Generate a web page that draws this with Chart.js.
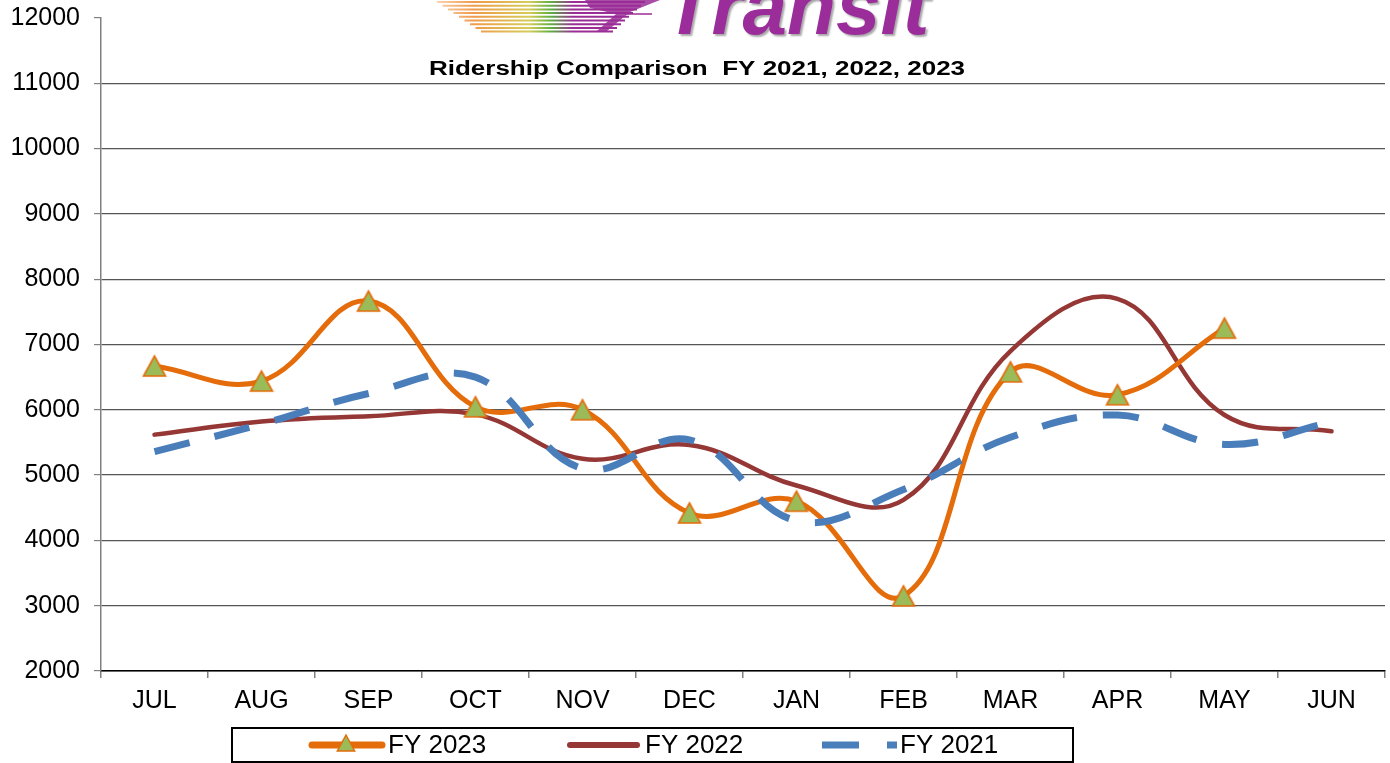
<!DOCTYPE html>
<html>
<head>
<meta charset="utf-8">
<script src="https://cdn.jsdelivr.net/npm/chart.js@4.4.1/dist/chart.umd.min.js"></script>
<style>
  html, body { margin: 0; padding: 0; background: #fff; }
  #wrap { position: relative; width: 1390px; height: 763px; }
</style>
</head>
<body>
<div id="wrap"><canvas id="c" width="1390" height="763"></canvas></div>
<script>
const categories = ['JUL','AUG','SEP','OCT','NOV','DEC','JAN','FEB','MAR','APR','MAY','JUN'];
const fy2023 = [6670, 6440, 7665, 6045, 6000, 4420, 4600, 3150, 6580, 6230, 7250, null];
const fy2022 = [5620, 5820, 5900, 5930, 5250, 5460, 4840, 4620, 6900, 7700, 5920, 5670];
const fy2021 = [5360, 5780, 6250, 6500, 5100, 5540, 4300, 4780, 5580, 5920, 5470, 5810];
const yTicks = [2000, 3000, 4000, 5000, 6000, 7000, 8000, 9000, 10000, 11000, 12000];
const titleText = 'Ridership Comparison  FY 2021, 2022, 2023';
const seriesNames = ['FY 2023', 'FY 2022', 'FY 2021'];

const ORANGE = '#E46C0A', GREEN = '#9BBB59', RED = '#953735', BLUE = '#4A7EBB';
const FONT = '"Liberation Sans", Arial, sans-serif';

// triangle marker centred on its bounding box (as in the spreadsheet chart)
function makeTriangle(w, h) {
  const cv = document.createElement('canvas');
  cv.width = w + 4; cv.height = h + 4;
  const c = cv.getContext('2d');
  c.beginPath();
  c.moveTo(cv.width / 2, 2);
  c.lineTo(cv.width - 2, h + 2);
  c.lineTo(2, h + 2);
  c.closePath();
  c.fillStyle = GREEN; c.fill();
  c.strokeStyle = ORANGE; c.lineWidth = 1.6; c.lineJoin = 'miter'; c.stroke();
  return cv;
}
const triMarker = makeTriangle(22, 20);

const decorPlugin = {
  id: 'decor',
  afterDraw(chart) {
    const ctx = chart.ctx;
    ctx.save();
    // logo stripes
    for (let i = 0; i < 9; i++) {
      const y = 2 + i * 3.7;
      const x0 = 437 + i * 5.5;
      const x1 = 645 - i * 4;
      const g = ctx.createLinearGradient(430, 0, 650, 0);
      g.addColorStop(0, 'rgba(240,150,70,0.3)');
      g.addColorStop(0.2, '#F09A4A');
      g.addColorStop(0.45, '#D6CC58');
      g.addColorStop(0.55, '#5EAF40');
      g.addColorStop(0.65, '#9A2D96');
      g.addColorStop(1, '#9A2D96');
      ctx.strokeStyle = g;
      ctx.lineWidth = 2;
      ctx.beginPath();
      ctx.moveTo(x0, y);
      ctx.lineTo(x1, y);
      ctx.stroke();
    }
    ctx.fillStyle = '#9A2D96';
    ctx.beginPath();
    ctx.moveTo(585, 0); ctx.lineTo(660, 0); ctx.lineTo(630, 12);
    ctx.lineTo(607, 31); ctx.lineTo(597, 31); ctx.lineTo(616, 14); ctx.lineTo(590, 8);
    ctx.closePath(); ctx.globalAlpha = 0.85; ctx.fill(); ctx.globalAlpha = 1;
    ctx.strokeStyle = '#9A2D96'; ctx.lineWidth = 1.5;
    ctx.beginPath(); ctx.moveTo(625, 14); ctx.lineTo(652, 14); ctx.stroke();
    // logo text
    ctx.font = 'italic bold 80px ' + FONT;
    ctx.textAlign = 'left'; ctx.textBaseline = 'alphabetic';
    ctx.shadowColor = 'rgba(0,0,0,0.35)'; ctx.shadowOffsetX = 2; ctx.shadowOffsetY = 2; ctx.shadowBlur = 2;
    ctx.fillStyle = '#9B2D9B';
    ctx.fillText('Transit', 664, 34);
    ctx.shadowColor = 'transparent';
    // title (horizontally stretched like the reference)
    ctx.save();
    ctx.translate(697, 69);
    ctx.scale(1.3, 1);
    ctx.font = 'bold 20px ' + FONT;
    ctx.textAlign = 'center'; ctx.textBaseline = 'middle';
    ctx.fillStyle = '#000';
    ctx.fillText(titleText, 0, 0);
    ctx.restore();
    // legend
    ctx.lineWidth = 2; ctx.strokeStyle = '#000';
    ctx.strokeRect(232, 728, 841, 34);
    const ly = 745;
    ctx.font = '26px ' + FONT; ctx.textAlign = 'left'; ctx.textBaseline = 'middle';
    // FY 2023
    ctx.strokeStyle = ORANGE; ctx.lineWidth = 7; ctx.lineCap = 'round';
    ctx.beginPath(); ctx.moveTo(312, ly); ctx.lineTo(382, ly); ctx.stroke();
    ctx.lineCap = 'butt';
    ctx.beginPath();
    const r = 10, cx = 346;
    ctx.moveTo(cx, ly - r); ctx.lineTo(cx + r * 0.866, ly + r * 0.5 + 1); ctx.lineTo(cx - r * 0.866, ly + r * 0.5 + 1); ctx.closePath();
    ctx.fillStyle = GREEN; ctx.fill(); ctx.strokeStyle = ORANGE; ctx.lineWidth = 1.5; ctx.stroke();
    ctx.fillStyle = '#000'; ctx.fillText(seriesNames[0], 388, ly + 1);
    // FY 2022
    ctx.strokeStyle = RED; ctx.lineWidth = 6; ctx.lineCap = 'round';
    ctx.beginPath(); ctx.moveTo(570, ly); ctx.lineTo(637, ly); ctx.stroke();
    ctx.lineCap = 'butt';
    ctx.fillStyle = '#000'; ctx.fillText(seriesNames[1], 645, ly + 1);
    // FY 2021
    ctx.strokeStyle = BLUE; ctx.lineWidth = 7;
    ctx.beginPath(); ctx.moveTo(822, ly); ctx.lineTo(859, ly); ctx.moveTo(887, ly); ctx.lineTo(897, ly); ctx.stroke();
    ctx.fillStyle = '#000'; ctx.fillText(seriesNames[2], 900, ly + 1);
    ctx.restore();
  }
};

new Chart(document.getElementById('c'), {
  type: 'line',
  data: {
    labels: categories,
    datasets: [
      {
        label: seriesNames[0], data: fy2023, order: 1,
        borderColor: ORANGE, borderWidth: 5, tension: 0.4,
        pointStyle: triMarker, pointRadius: 12, pointHoverRadius: 12,
        pointBackgroundColor: GREEN, pointBorderColor: ORANGE, pointBorderWidth: 1.5,
        borderCapStyle: 'round', spanGaps: false
      },
      {
        label: seriesNames[1], data: fy2022, order: 2,
        borderColor: RED, borderWidth: 4.5, tension: 0.4,
        pointRadius: 0, borderCapStyle: 'round'
      },
      {
        label: seriesNames[2], data: fy2021, order: 0,
        borderColor: BLUE, borderWidth: 7, tension: 0.4,
        pointRadius: 0, borderDash: [36, 26], borderCapStyle: 'butt'
      }
    ]
  },
  options: {
    responsive: false,
    animation: false,
    devicePixelRatio: 1,
    layout: { autoPadding: false, padding: { top: 18, right: 5, bottom: 0, left: 0 } },
    plugins: { legend: { display: false }, title: { display: false }, tooltip: { enabled: false } },
    scales: {
      x: {
        type: 'category', offset: true,
        grid: { drawOnChartArea: false, offset: true, tickLength: 7, tickColor: '#808080', lineWidth: 1.5 },
        border: { color: '#000', width: 1.5 },
        ticks: { color: '#000', font: { family: FONT, size: 25 }, padding: 8, maxRotation: 0, autoSkip: false },
        afterFit(s) { s.height = 92; s.paddingLeft = 0; s.paddingRight = 0; }
      },
      y: {
        min: 2000, max: 12000,
        afterBuildTicks(s) { s.ticks = yTicks.map(v => ({ value: v })); },
        grid: {
          color: (c) => (c.tick && c.tick.value === 12000) ? 'rgba(0,0,0,0)' : '#555',
          lineWidth: 1.2, tickLength: 7, tickColor: '#808080'
        },
        border: { color: '#808080', width: 1.5 },
        ticks: { color: '#000', font: { family: FONT, size: 25 }, padding: 14, callback: (v) => String(v) },
        afterFit(s) { s.width = 101; s.paddingTop = 0; s.paddingBottom = 0; }
      }
    }
  },
  plugins: [decorPlugin]
});
</script>
</body>
</html>
